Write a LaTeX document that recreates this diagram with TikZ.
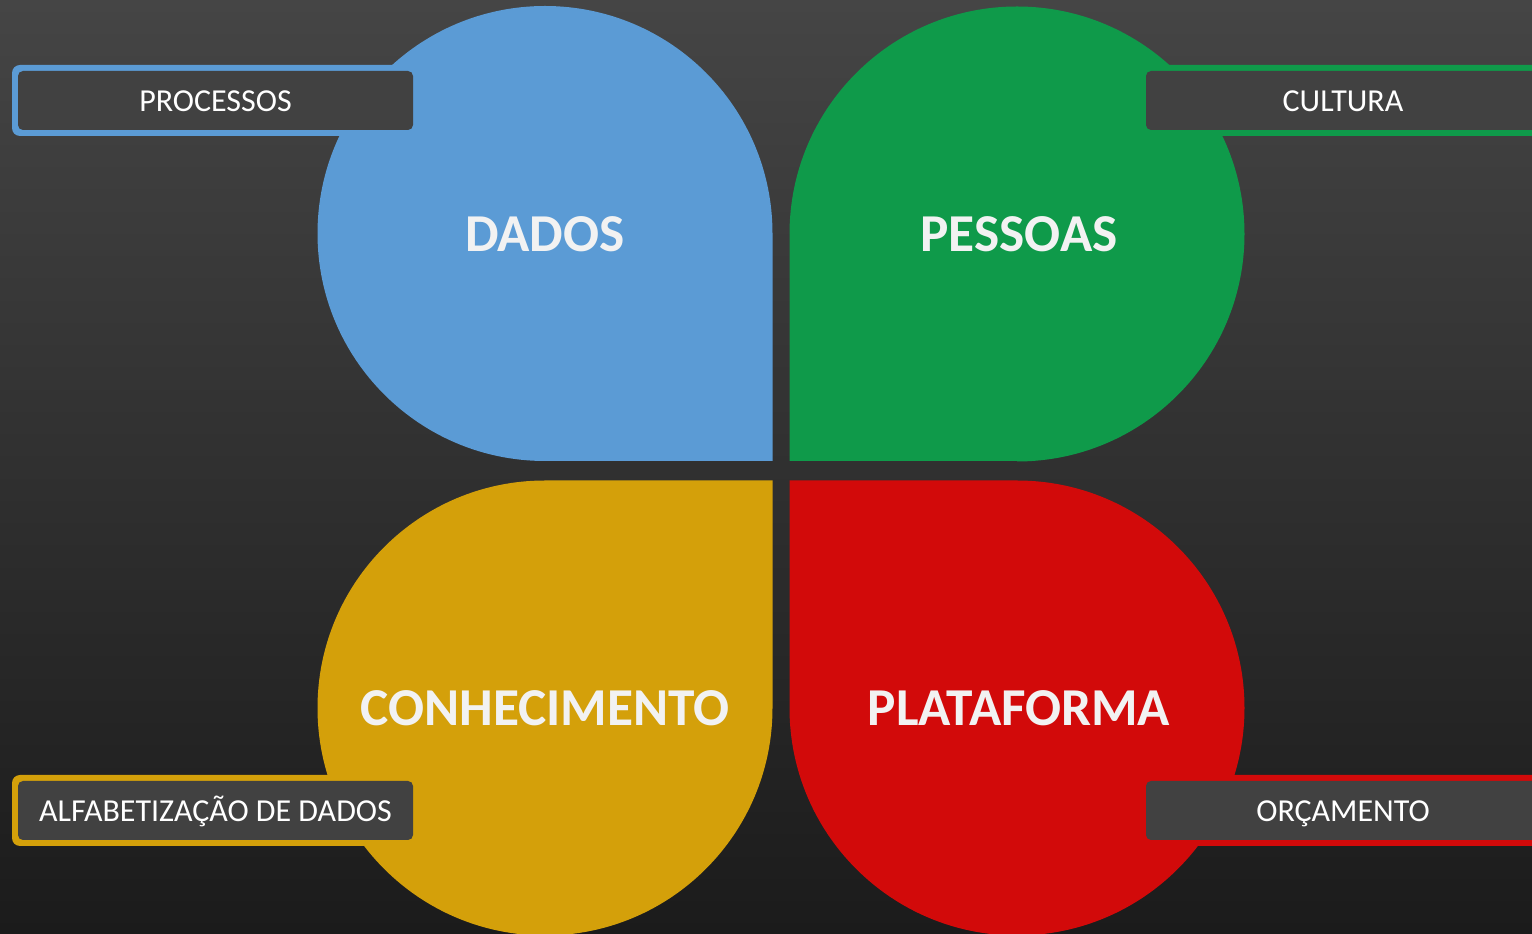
\documentclass[tikz,border=0pt]{standalone}
\usepackage{fontspec}
\setmainfont{Carlito}
\definecolor{bgtop}{HTML}{454545}
\definecolor{bgbot}{HTML}{1B1B1B}
\definecolor{cblue}{HTML}{5B9BD5}
\definecolor{cgreen}{HTML}{0F9A4A}
\definecolor{cgold}{HTML}{D4A00A}
\definecolor{cred}{HTML}{D20A0A}
\definecolor{lblbox}{HTML}{414141}
\definecolor{petaltext}{HTML}{F2F2F2}
\tikzset{
  petaltxt/.style={text=petaltext, font=\fontsize{53.3}{60}\selectfont\bfseries, inner sep=0pt, anchor=base},
  lbltxt/.style={text=white, font=\fontsize{32}{38}\selectfont, inner sep=0pt, anchor=base},
  outerbox/.style={rounded corners=8pt},
  innerbox/.style={fill=lblbox, rounded corners=5pt},
}
\begin{document}
\begin{tikzpicture}[x=1pt,y=1pt]
\useasboundingbox (0,0) rectangle (1532,934);
\clip (0,0) rectangle (1532,934);
\shade[top color=bgtop, bottom color=bgbot] (0,0) rectangle (1532,934);
% petals
\fill[cblue] (772.5,700) -- (772.5,473) -- (545,473) arc[start angle=-90, end angle=-360, radius=227.5] -- cycle;
\fill[cgreen] (1017,473) -- (789.5,473) -- (789.5,700) arc[start angle=180, end angle=-90, radius=227.5] -- cycle;
\fill[cgold] (545,453.5) -- (772.5,453.5) -- (772.5,226) arc[start angle=0, end angle=-270, radius=227.5] -- cycle;
\fill[cred] (789.5,226) -- (789.5,453.5) -- (1017,453.5) arc[start angle=90, end angle=-180, radius=227.5] -- cycle;
% petal texts
\node[petaltxt] (dados) at (545,682) {DADOS};
\node[petaltxt] (pessoas) at (1019,682) {PESSOAS};
\node[petaltxt] (conhec) at (545,208) {CONHECIMENTO};
\node[petaltxt] (plataf) at (1019,208) {PLATAFORMA};
% labels
\fill[cblue, outerbox] (12,798) rectangle (430,869);
\fill[innerbox] (18,804) rectangle (413,863);
\node[lbltxt] (processos) at (215.5,822) {PROCESSOS};
\fill[cgreen, outerbox] (1120,798) rectangle (1560,869);
\fill[innerbox] (1146,804) rectangle (1560,863);
\node[lbltxt] (cultura) at (1343,822) {CULTURA};
\fill[cgold, outerbox] (12,88) rectangle (430,159);
\fill[innerbox] (18,94) rectangle (413,153);
\node[lbltxt] (alfa) at (215.5,112) {ALFABETIZAÇÃO DE DADOS};
\fill[cred, outerbox] (1120,88) rectangle (1560,159);
\fill[innerbox] (1146,94) rectangle (1560,153);
\node[lbltxt] (orcamento) at (1343,112) {ORÇAMENTO};
\end{tikzpicture}
\end{document}
